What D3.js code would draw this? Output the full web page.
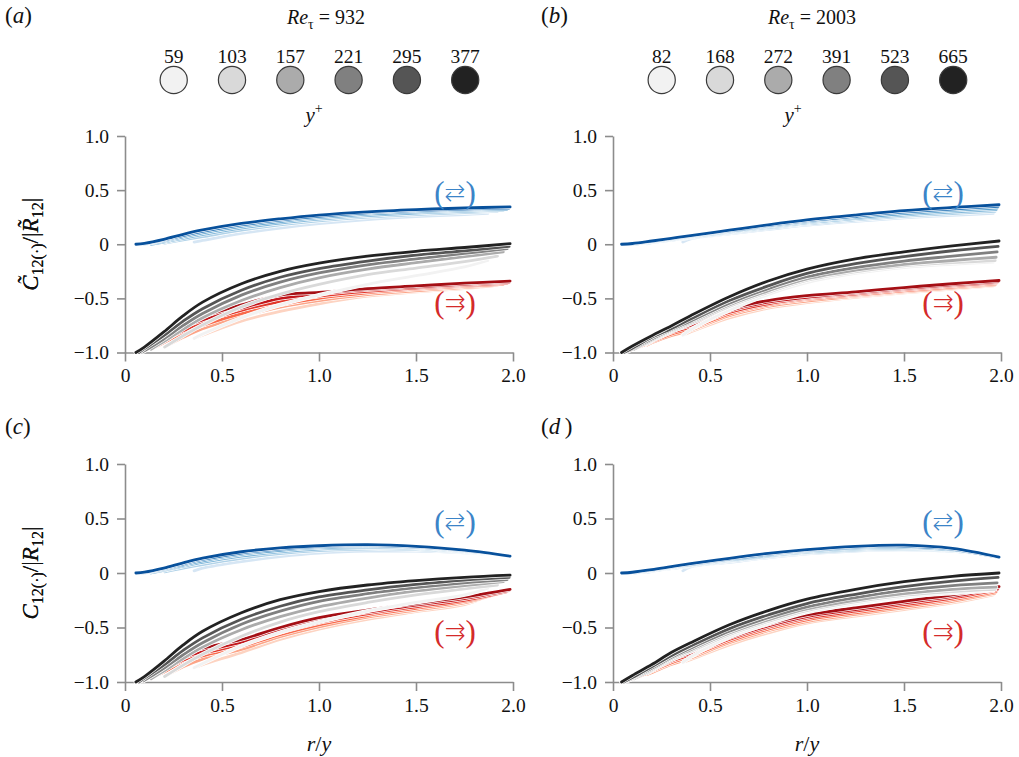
<!DOCTYPE html>
<html>
<head>
<meta charset="utf-8">
<script src="https://cdn.jsdelivr.net/npm/d3@7"></script>
<style>
  body { margin: 0; background: #fff; }
  text { font-family: "Liberation Serif", "Times New Roman", serif; fill: #111; }
</style>
</head>
<body>
<svg id="chart" width="1019" height="757"></svg>
<script>
// y+ stations for the two Re_tau cases
const yPlusA = [59, 103, 157, 221, 295, 377];
const yPlusB = [82, 168, 272, 391, 523, 665];

// first / last r/y of every curve
const startA = [0.356, 0.204, 0.134, 0.095, 0.071, 0.056];
const endA = [1.87, 1.92, 1.95, 1.97, 1.98, 1.985];
const startB = [0.36, 0.176, 0.108, 0.075, 0.056, 0.044];
const endB = [1.96, 1.97, 1.975, 1.98, 1.985, 1.99];

// rows: [value at start, values at gridX..., value at end]
const gridX = [0.1, 0.2, 0.3, 0.4, 0.6, 0.8, 1.0, 1.25, 1.5, 1.75];

// (a) Re_tau = 932, phase-averaged
const blueA = [
  [0.02, null, null, null, 0.035, 0.10, 0.15, 0.19, 0.228, 0.255, 0.275, 0.285],
  [0.01, null, null, 0.04, 0.07, 0.13, 0.178, 0.215, 0.25, 0.275, 0.293, 0.305],
  [0.0, null, 0.02, 0.055, 0.09, 0.15, 0.195, 0.232, 0.265, 0.288, 0.305, 0.315],
  [0.0, null, 0.03, 0.068, 0.105, 0.165, 0.21, 0.245, 0.278, 0.30, 0.315, 0.325],
  [0.0, 0.004, 0.038, 0.08, 0.118, 0.178, 0.222, 0.257, 0.29, 0.31, 0.325, 0.335],
  [0.0, 0.008, 0.045, 0.092, 0.132, 0.192, 0.235, 0.27, 0.30, 0.32, 0.335, 0.345]
];
const redA = [
  [-0.87, null, null, null, -0.84, -0.71, -0.62, -0.55, -0.48, -0.44, -0.41, -0.39],
  [-0.95, null, null, -0.86, -0.78, -0.67, -0.58, -0.52, -0.465, -0.43, -0.40, -0.38],
  [-0.97, null, -0.91, -0.82, -0.75, -0.64, -0.56, -0.50, -0.45, -0.415, -0.39, -0.37],
  [-0.99, null, -0.89, -0.80, -0.72, -0.61, -0.53, -0.48, -0.435, -0.405, -0.38, -0.36],
  [-1.0, -0.97, -0.87, -0.77, -0.70, -0.59, -0.50, -0.46, -0.42, -0.395, -0.37, -0.35],
  [-1.0, -0.95, -0.84, -0.74, -0.67, -0.56, -0.47, -0.445, -0.41, -0.385, -0.36, -0.34]
];
const greyA = [
  [-0.87, null, null, null, -0.83, -0.68, -0.56, -0.47, -0.37, -0.29, -0.21, -0.15],
  [-0.95, null, null, -0.845, -0.745, -0.58, -0.46, -0.37, -0.28, -0.22, -0.16, -0.11],
  [-0.97, null, -0.90, -0.785, -0.68, -0.52, -0.40, -0.31, -0.23, -0.17, -0.115, -0.07],
  [-0.99, null, -0.875, -0.75, -0.64, -0.47, -0.35, -0.265, -0.19, -0.135, -0.085, -0.04],
  [-1.0, -0.965, -0.845, -0.71, -0.595, -0.425, -0.305, -0.225, -0.155, -0.10, -0.06, -0.02],
  [-1.0, -0.95, -0.81, -0.66, -0.535, -0.365, -0.25, -0.175, -0.11, -0.065, -0.03, 0.005]
];

// (b) Re_tau = 2003, phase-averaged
const blueB = [
  [0.02, null, null, null, 0.05, 0.095, 0.137, 0.176, 0.212, 0.243, 0.268, 0.285],
  [0.005, null, 0.015, 0.037, 0.06, 0.105, 0.148, 0.188, 0.225, 0.257, 0.284, 0.305],
  [0.0, null, 0.02, 0.042, 0.065, 0.112, 0.157, 0.198, 0.236, 0.27, 0.298, 0.32],
  [0.0, null, 0.024, 0.046, 0.07, 0.118, 0.165, 0.207, 0.247, 0.283, 0.312, 0.335],
  [0.0, 0.004, 0.027, 0.05, 0.075, 0.124, 0.172, 0.216, 0.258, 0.296, 0.325, 0.35],
  [0.0, 0.007, 0.03, 0.055, 0.08, 0.13, 0.18, 0.225, 0.27, 0.31, 0.34, 0.365]
];
const redB = [
  [-0.84, null, null, null, -0.81, -0.68, -0.59, -0.54, -0.49, -0.45, -0.415, -0.385],
  [-0.93, null, -0.91, -0.845, -0.795, -0.66, -0.575, -0.525, -0.48, -0.44, -0.405, -0.375],
  [-0.97, null, -0.90, -0.83, -0.78, -0.645, -0.56, -0.51, -0.47, -0.43, -0.395, -0.365],
  [-0.99, null, -0.89, -0.815, -0.765, -0.63, -0.55, -0.50, -0.46, -0.42, -0.385, -0.355],
  [-1.0, -0.965, -0.875, -0.80, -0.75, -0.615, -0.535, -0.49, -0.45, -0.41, -0.375, -0.345],
  [-1.0, -0.95, -0.86, -0.78, -0.73, -0.60, -0.52, -0.475, -0.44, -0.40, -0.365, -0.335]
];
const greyB = [
  [-0.84, null, null, null, -0.79, -0.61, -0.465, -0.355, -0.27, -0.215, -0.185, -0.165],
  [-0.92, null, -0.895, -0.81, -0.735, -0.575, -0.445, -0.335, -0.255, -0.20, -0.17, -0.15],
  [-0.97, null, -0.885, -0.80, -0.72, -0.56, -0.43, -0.32, -0.24, -0.185, -0.15, -0.12],
  [-0.99, null, -0.875, -0.79, -0.71, -0.545, -0.41, -0.30, -0.215, -0.155, -0.11, -0.07],
  [-1.0, -0.96, -0.86, -0.78, -0.69, -0.52, -0.385, -0.27, -0.18, -0.115, -0.06, -0.02],
  [-1.0, -0.94, -0.845, -0.755, -0.66, -0.485, -0.34, -0.23, -0.135, -0.07, -0.015, 0.03]
];

// (c) Re_tau = 932, total
const blueC = [
  [0.02, null, null, null, 0.045, 0.105, 0.15, 0.182, 0.20, 0.20, 0.185, 0.172],
  [0.01, null, null, 0.045, 0.078, 0.135, 0.178, 0.205, 0.22, 0.215, 0.192, 0.17],
  [0.0, null, 0.024, 0.062, 0.098, 0.155, 0.195, 0.22, 0.233, 0.225, 0.196, 0.165],
  [0.0, null, 0.032, 0.073, 0.112, 0.17, 0.208, 0.232, 0.243, 0.232, 0.20, 0.16],
  [0.0, 0.004, 0.038, 0.082, 0.124, 0.183, 0.22, 0.242, 0.252, 0.238, 0.205, 0.155],
  [0.0, 0.008, 0.045, 0.093, 0.136, 0.195, 0.23, 0.25, 0.26, 0.245, 0.21, 0.155]
];
const redC = [
  [-0.87, null, null, null, -0.84, -0.73, -0.61, -0.515, -0.425, -0.355, -0.29, -0.21],
  [-0.95, null, null, -0.86, -0.79, -0.70, -0.585, -0.495, -0.405, -0.34, -0.275, -0.19],
  [-0.97, null, -0.91, -0.82, -0.76, -0.675, -0.565, -0.475, -0.39, -0.325, -0.26, -0.18],
  [-0.99, null, -0.89, -0.80, -0.74, -0.655, -0.545, -0.455, -0.375, -0.31, -0.25, -0.17],
  [-1.0, -0.97, -0.87, -0.78, -0.72, -0.635, -0.525, -0.435, -0.36, -0.295, -0.235, -0.16],
  [-1.0, -0.95, -0.84, -0.75, -0.69, -0.61, -0.50, -0.41, -0.34, -0.28, -0.22, -0.15]
];
const greyC = [
  [-0.87, null, null, null, -0.83, -0.67, -0.545, -0.45, -0.35, -0.27, -0.20, -0.14],
  [-0.95, null, null, -0.845, -0.745, -0.58, -0.45, -0.355, -0.27, -0.20, -0.145, -0.11],
  [-0.97, null, -0.90, -0.785, -0.68, -0.52, -0.40, -0.31, -0.23, -0.165, -0.115, -0.08],
  [-0.99, null, -0.875, -0.75, -0.64, -0.47, -0.35, -0.26, -0.19, -0.135, -0.09, -0.06],
  [-1.0, -0.965, -0.845, -0.71, -0.595, -0.425, -0.305, -0.22, -0.155, -0.105, -0.065, -0.04],
  [-1.0, -0.95, -0.81, -0.66, -0.535, -0.365, -0.245, -0.17, -0.11, -0.07, -0.04, -0.02]
];

// (d) Re_tau = 2003, total
const blueD = [
  [0.02, null, null, null, 0.055, 0.098, 0.14, 0.175, 0.202, 0.212, 0.198, 0.165],
  [0.005, null, 0.015, 0.04, 0.064, 0.108, 0.15, 0.184, 0.211, 0.22, 0.202, 0.16],
  [0.0, null, 0.02, 0.046, 0.07, 0.116, 0.158, 0.192, 0.22, 0.228, 0.207, 0.155],
  [0.0, null, 0.024, 0.05, 0.075, 0.122, 0.165, 0.2, 0.228, 0.236, 0.212, 0.15],
  [0.0, 0.004, 0.027, 0.054, 0.08, 0.128, 0.172, 0.207, 0.236, 0.245, 0.218, 0.145],
  [0.0, 0.007, 0.03, 0.058, 0.085, 0.135, 0.18, 0.215, 0.245, 0.255, 0.225, 0.145]
];
const redD = [
  [-0.82, null, null, null, -0.795, -0.66, -0.55, -0.46, -0.395, -0.335, -0.275, -0.20],
  [-0.93, null, -0.915, -0.84, -0.78, -0.64, -0.53, -0.445, -0.38, -0.32, -0.26, -0.185],
  [-0.97, null, -0.90, -0.825, -0.765, -0.625, -0.515, -0.43, -0.365, -0.305, -0.245, -0.17],
  [-0.99, null, -0.89, -0.81, -0.75, -0.61, -0.50, -0.415, -0.35, -0.29, -0.23, -0.155],
  [-1.0, -0.965, -0.875, -0.795, -0.735, -0.595, -0.485, -0.40, -0.335, -0.275, -0.215, -0.14],
  [-1.0, -0.95, -0.86, -0.78, -0.72, -0.58, -0.47, -0.385, -0.32, -0.26, -0.20, -0.125]
];
const greyD = [
  [-0.82, null, null, null, -0.77, -0.59, -0.465, -0.36, -0.28, -0.22, -0.185, -0.16],
  [-0.92, null, -0.895, -0.80, -0.72, -0.565, -0.445, -0.345, -0.265, -0.205, -0.17, -0.15],
  [-0.97, null, -0.885, -0.785, -0.705, -0.55, -0.43, -0.33, -0.25, -0.19, -0.15, -0.13],
  [-0.99, null, -0.875, -0.775, -0.69, -0.535, -0.41, -0.31, -0.225, -0.16, -0.115, -0.09],
  [-1.0, -0.96, -0.86, -0.76, -0.67, -0.51, -0.385, -0.28, -0.195, -0.125, -0.075, -0.04],
  [-1.0, -0.94, -0.84, -0.73, -0.64, -0.475, -0.345, -0.24, -0.15, -0.08, -0.03, 0.0]
];

const xTicks = [0, 0.5, 1, 1.5, 2];
const yTicks = [-1, -0.5, 0, 0.5, 1];

const greys = ["#f2f2f2", "#d9d9d9", "#ababab", "#808080", "#555555", "#222222"];
const reds = ["#fdd3c1", "#fca487", "#f96a4c", "#e2372b", "#c2161b", "#a50f15"];
const blues = ["#d6e6f4", "#b0d2e8", "#7fb7da", "#4a98c9", "#2171b5", "#08519c"];

const svg = d3.select("#chart");

const panels = [
  {tag: "a", left: 125, top: 136, bottom: 352.5, starts: startA, ends: endA, blue: blueA, red: redA, grey: greyA, tilde: true},
  {tag: "b", left: 613, top: 136, bottom: 352.5, starts: startB, ends: endB, blue: blueB, red: redB, grey: greyB, tilde: true},
  {tag: "c", left: 125, top: 464, bottom: 682, starts: startA, ends: endA, blue: blueC, red: redC, grey: greyC, tilde: false},
  {tag: "d", left: 613, top: 464, bottom: 682, starts: startB, ends: endB, blue: blueD, red: redD, grey: greyD, tilde: false}
];

function curvePoints(row, start, end) {
  const pts = [[start, row[0]]];
  gridX.forEach((g, j) => {
    const v = row[j + 1];
    if (v != null && g > start + 0.02) pts.push([g, v]);
  });
  pts.push([end, row[row.length - 1]]);
  return pts;
}

const fmt = v => v === 0 ? "0" : d3.format(".1f")(v);

panels.forEach(p => {
  const x = d3.scaleLinear().domain([0, 2]).range([p.left, p.left + 388]);
  const y = d3.scaleLinear().domain([-1, 1]).range([p.bottom, p.top]);
  const g = svg.append("g");

  // axes
  const yAxis = g.append("g")
    .attr("transform", `translate(${p.left},0)`)
    .call(d3.axisLeft(y).tickValues(yTicks).tickFormat(fmt).tickSize(8).tickPadding(8).tickSizeOuter(0));
  const xAxis = g.append("g")
    .attr("transform", `translate(0,${p.bottom})`)
    .call(d3.axisBottom(x).tickValues(xTicks).tickFormat(fmt).tickSize(9).tickPadding(7).tickSizeOuter(0));
  [yAxis, xAxis].forEach(a => {
    a.select(".domain").attr("stroke", "#8c8c8c").attr("stroke-width", 1.6);
    a.selectAll(".tick line").attr("stroke", "#8c8c8c").attr("stroke-width", 1.6);
    a.selectAll(".tick text")
      .style("font-family", '"Liberation Serif", serif')
      .style("font-size", "19.5px")
      .attr("fill", "#111");
  });

  const line = d3.line()
    .x(d => x(d[0]))
    .y(d => y(d[1]))
    .curve(d3.curveCatmullRom.alpha(0.5));

  const sets = [[p.blue, blues], [p.red, reds], [p.grey, greys]];
  sets.forEach(([rows, cols]) => {
    rows.forEach((row, i) => {
      const pts = curvePoints(row, p.starts[i], p.ends[i]);
      g.append("path").attr("d", line(pts))
        .attr("fill", "none").attr("stroke", "#fff").attr("stroke-width", 4.2)
        .attr("stroke-linecap", "round");
      g.append("path").attr("d", line(pts))
        .attr("fill", "none").attr("stroke", cols[i]).attr("stroke-width", 2.8)
        .attr("stroke-linecap", "round");
    });
  });

  // direction labels
  const labels = [
    {ch: "\u21C4", col: "#3b84c8", v: 0.46},
    {ch: "\u21C9", col: "#d42a2a", v: -0.55}
  ];
  labels.forEach(l => {
    const t = g.append("text")
      .attr("x", p.left + 330)
      .attr("y", y(l.v) + 9)
      .attr("text-anchor", "middle")
      .style("fill", l.col);
    t.append("tspan").attr("font-size", 31).text("(");
    t.append("tspan").attr("font-size", 25).attr("font-weight", 200).attr("dy", -2)
      .style("font-family", '"DejaVu Sans", sans-serif').text(l.ch);
    t.append("tspan").attr("font-size", 31).attr("dy", 2).text(")");
  });

  // y-axis title
  const ty = (p.top + p.bottom) / 2;
  const yl = g.append("text")
    .attr("transform", `translate(38,${ty}) rotate(-90)`)
    .attr("text-anchor", "middle")
    .attr("font-size", 23);
  yl.append("tspan").attr("font-style", "italic").text(p.tilde ? "C\u0303" : "C");
  yl.append("tspan").attr("font-size", 16).attr("dy", 5).text("12(\u00B7)");
  yl.append("tspan").attr("dy", -5).text("/|");
  yl.append("tspan").attr("font-style", "italic").text(p.tilde ? "R\u0303" : "R");
  yl.append("tspan").attr("font-size", 16).attr("dy", 5).text("12");
  yl.append("tspan").attr("dy", -5).text("|");

  // panel tag
  const tagX = p.left === 125 ? 5 : 541;
  const tagY = p.top === 136 ? 23 : 434;
  const tg = g.append("text").attr("x", tagX).attr("y", tagY).attr("font-size", 23);
  tg.append("tspan").text("(");
  tg.append("tspan").attr("font-style", "italic").text(p.tag + (p.tag === "d" ? "\u2009" : ""));
  tg.append("tspan").text(")");

  // x-axis title on lower row
  if (p.top !== 136) {
    const xl = g.append("text")
      .attr("x", p.left + 194).attr("y", 751)
      .attr("text-anchor", "middle").attr("font-size", 22)
      .attr("font-style", "italic");
    xl.append("tspan").text("r");
    xl.append("tspan").attr("font-style", "normal").text("/");
    xl.append("tspan").text("y");
  }
});

// legends for y+
const legends = [
  {vals: yPlusA, re: "932", cx: 173.7, reX: 326, yx: 314},
  {vals: yPlusB, re: "2003", cx: 661.7, reX: 812, yx: 793}
];
legends.forEach(L => {
  const lg = svg.append("g");
  const re = lg.append("text").attr("x", L.reX).attr("y", 24)
    .attr("text-anchor", "middle").attr("font-size", 20);
  re.append("tspan").attr("font-style", "italic").text("Re");
  re.append("tspan").attr("font-size", 14).attr("dy", 5).text("\u03C4");
  re.append("tspan").attr("dy", -5).text(" = " + L.re);

  L.vals.forEach((v, i) => {
    const cx = L.cx + i * 58.3;
    lg.append("circle").attr("cx", cx).attr("cy", 80).attr("r", 13.6)
      .attr("fill", greys[i]).attr("stroke", "#3a3a3a").attr("stroke-width", 1.2);
    lg.append("text").attr("x", cx).attr("y", 63)
      .attr("text-anchor", "middle").attr("font-size", 19.5).text(v);
  });

  const yp = lg.append("text").attr("x", L.yx).attr("y", 122)
    .attr("text-anchor", "middle").attr("font-size", 21);
  yp.append("tspan").attr("font-style", "italic").text("y");
  yp.append("tspan").attr("font-size", 14).attr("dy", -9).text("+");
});
</script>
</body>
</html>
